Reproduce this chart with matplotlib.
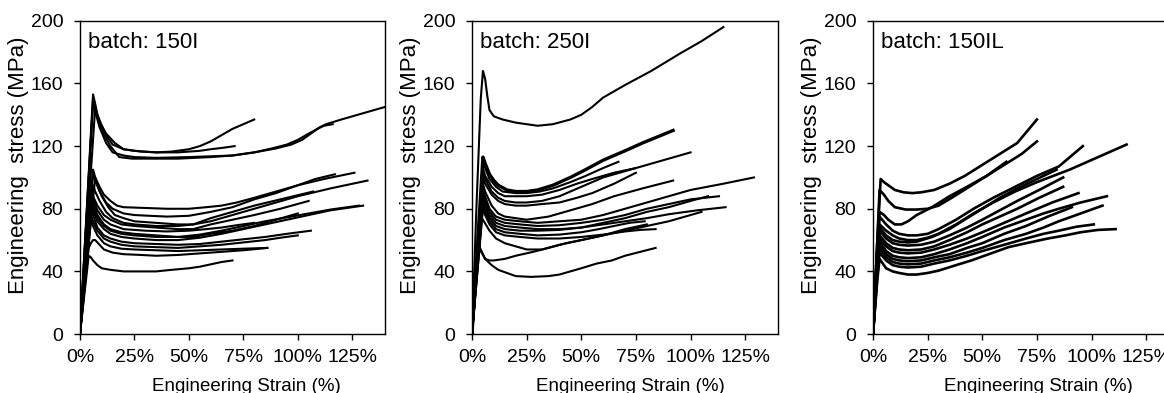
import matplotlib
matplotlib.use("Agg")
import matplotlib.pyplot as plt

plt.rcParams["font.family"] = ["Liberation Sans", "DejaVu Sans"]

# strain in %, stress in MPa, one list per specimen curve
b150i_strain = [
    [0, 6, 7, 8, 10, 12, 16, 20, 28, 35, 42, 50, 55, 60, 65, 70, 75, 80],
    [0, 6, 7, 9, 12, 15, 20, 25, 35, 45, 55, 60, 66, 71],
    [0, 6, 7, 9, 12, 15, 20, 25, 35, 50, 60, 70, 80, 90, 97, 102, 106, 110, 113, 120, 130, 140],
    [0, 7, 8, 10, 14, 18, 24, 30, 45, 60, 70, 80, 88, 95, 100, 105, 109, 112, 116],
    [0, 6, 7, 9, 11, 14, 17, 20, 30, 40, 50, 58, 65, 72, 80, 90, 100, 108, 117],
    [0, 6, 7, 9, 12, 15, 20, 25, 32, 40, 50, 60, 70, 80, 90, 100, 112, 126],
    [0, 7, 8, 10, 13, 16, 20, 25, 35, 45, 52, 60, 70, 80, 90, 100, 115, 132],
    [0, 6, 7, 9, 12, 15, 20, 25, 35, 45, 52, 60, 70, 80, 92, 107],
    [0, 5, 6, 8, 11, 14, 19, 25, 35, 45, 52, 60, 70, 80, 92, 105],
    [0, 5, 6, 8, 11, 14, 20, 30, 40, 50, 58, 65, 72, 80],
    [0, 5, 6, 8, 11, 14, 19, 25, 35, 45, 52, 60, 70, 80, 90, 100],
    [0, 5, 6, 8, 11, 14, 19, 25, 35, 45, 55, 65, 75, 85, 95, 105, 115, 128],
    [0, 5, 6, 8, 11, 14, 19, 25, 35, 45, 55, 65, 75, 85, 95, 105, 115, 130],
    [0, 5, 6, 8, 11, 14, 19, 25, 35, 45, 55, 65, 75, 85, 95, 106],
    [0, 5, 6, 8, 11, 14, 19, 25, 35, 45, 55, 65, 75, 85, 92, 100],
    [0, 5, 6, 8, 11, 14, 19, 25, 35, 45, 55, 65, 75, 86],
    [0, 4, 5, 6, 7, 9, 11, 15, 20, 28, 35, 45, 55, 65, 75, 86],
    [0, 4, 5, 6, 8, 10, 14, 20, 28, 35, 42, 50, 55, 60, 65, 70],
]
b150i_stress = [
    [0, 153, 147, 140, 133, 128, 122, 118, 116.5, 116, 116.5, 118, 120, 123, 127, 131, 134, 137],
    [0, 150, 144, 136, 127, 121, 118, 117, 116, 116, 117, 118, 119, 120],
    [0, 148, 142, 132, 122, 116, 114, 113, 112.5, 113, 113.5, 114, 116, 118.5, 121, 124, 128, 132, 134, 137, 141, 145],
    [0, 145, 139, 130, 120, 113, 112, 112, 112, 113, 114, 116, 118.5, 121, 124, 128, 131, 133, 134],
    [0, 105, 100, 94, 89, 85, 82, 81, 80.5, 80, 80, 81, 82, 84, 87, 91, 95, 99, 102],
    [0, 103, 98, 91, 84, 80, 77, 76, 75.5, 75, 75.5, 78, 81, 86, 90, 95, 99, 103],
    [0, 100, 95, 88, 81, 76, 74, 72, 71, 70, 70, 72, 76, 80, 84, 88, 93, 98],
    [0, 95, 91, 85, 78, 74, 71, 70, 69, 69, 70, 74, 78, 82, 86, 91],
    [0, 92, 88, 82, 76, 73, 70, 69, 68, 67, 67, 70, 73, 76, 80, 85],
    [0, 90, 86, 79, 73, 70, 67, 66, 65.5, 66, 67, 68, 69.5, 71],
    [0, 88, 83, 76, 70, 67, 65, 64, 63, 62, 62, 64, 66, 69, 73, 77],
    [0, 86, 81, 74, 69, 66, 64, 63, 62, 62, 63.5, 66, 69, 72, 74.5, 77, 79.5, 82],
    [0, 83, 79, 72, 67, 64, 62, 61, 60, 60, 61.5, 64, 67, 70, 73, 76, 79, 82],
    [0, 80, 76, 68, 63, 61, 59, 58, 57.5, 57, 57.5, 59, 60.5, 62, 64, 66],
    [0, 76, 72, 66, 61, 59, 57, 56, 55.5, 55, 56, 57, 58.5, 60, 61.5, 63],
    [0, 73, 69, 63, 58, 56, 54.5, 54, 53.5, 53, 53.5, 54, 54.5, 55],
    [0, 55, 58, 60, 60, 57, 54, 52, 51, 50.5, 50, 50.5, 51.5, 52.5, 53.5, 55],
    [0, 50, 49, 47, 44, 42, 41, 40, 40, 40, 41, 42, 43, 44.5, 46, 47],
]

b250i_strain = [
    [0, 2, 4, 5, 6, 7, 8, 10, 14, 20, 30, 37, 45, 50, 55, 60, 70, 82, 95, 105, 115],
    [0, 5, 6, 8, 10, 12, 16, 20, 25, 30, 37, 45, 52, 60, 70, 78, 85, 92],
    [0, 5, 6, 8, 11, 14, 20, 25, 31, 37, 45, 52, 60, 67],
    [0, 5, 6, 9, 12, 15, 20, 25, 32, 40, 48, 55, 65, 75],
    [0, 5, 6, 9, 12, 15, 20, 25, 32, 40, 50, 60, 70, 80, 90, 100],
    [0, 5, 6, 9, 12, 15, 20, 25, 32, 40, 48, 55, 65, 75],
    [0, 5, 6, 9, 12, 15, 20, 25, 35, 45, 55, 65, 78, 92],
    [0, 5, 6, 8, 11, 15, 22, 30, 40, 50, 60, 70, 85, 100, 115, 129],
    [0, 5, 6, 8, 11, 15, 22, 30, 40, 50, 60, 70, 80, 90, 100, 113],
    [0, 5, 6, 8, 11, 15, 22, 30, 40, 50, 60, 70, 80, 90, 103, 116],
    [0, 5, 6, 8, 11, 15, 22, 30, 40, 50, 60, 70, 80, 90, 100, 108],
    [0, 5, 6, 8, 11, 15, 22, 30, 40, 50, 58, 65, 72, 79],
    [0, 5, 6, 8, 11, 15, 22, 30, 40, 50, 60, 70, 77, 84],
    [0, 4, 5, 8, 11, 15, 20, 25, 32, 40, 50, 60, 70, 80],
    [0, 3, 4, 6, 8, 10, 15, 20, 28, 35, 43, 50, 60, 70, 80, 90, 105],
    [0, 3, 4, 6, 9, 12, 16, 20, 27, 35, 40, 45, 50, 57, 64, 70, 77, 84],
]
b250i_stress = [
    [0, 80, 150, 168, 163, 152, 143, 139, 137, 135, 133, 134, 137, 140, 145, 151, 159, 168, 179, 187, 196],
    [0, 113, 109, 102, 98, 95, 92, 91, 91, 92, 95, 100, 105, 111, 117, 122, 126, 130],
    [0, 110, 106, 99, 94, 91, 90, 90, 91, 93, 97, 101, 106, 110],
    [0, 106, 101, 94, 90, 88, 88, 88, 89, 92, 96, 99, 103, 106],
    [0, 104, 99, 91, 87, 85, 84, 84, 85, 88, 94, 100, 104, 108, 112, 116],
    [0, 100, 96, 89, 85, 83, 82, 82, 83, 84, 87, 90, 96, 103],
    [0, 96, 91, 82, 77, 75, 74, 73, 75, 79, 83, 88, 93, 98],
    [0, 92, 88, 80, 75, 73, 72, 71, 72, 73, 76, 80, 86, 92, 96, 100],
    [0, 90, 86, 78, 73, 71, 70, 69, 69.5, 71, 73, 76, 80, 83, 86, 88],
    [0, 88, 84, 76, 71, 69, 68, 67, 67, 68, 70, 72, 74, 76.5, 79, 81],
    [0, 85, 81, 74, 69, 67, 66, 66, 66.5, 68, 71, 74, 78, 81, 85, 88],
    [0, 82, 78, 72, 67, 65, 64, 63, 63.5, 65, 67, 69, 71, 72],
    [0, 80, 76, 70, 65, 63, 62, 61, 61, 62, 63.5, 65.5, 66.5, 67],
    [0, 75, 73, 66, 61, 58, 56, 54, 54, 57, 60, 63, 67, 70],
    [0, 55, 53, 48, 47, 47, 48, 50, 52.5, 55, 58, 60, 63, 66, 69, 72, 78],
    [0, 57, 54, 48, 44, 41, 39, 37, 36.5, 37, 38, 40, 42, 45, 47, 50, 52.5, 55],
]

b150il_strain = [
    [0, 2, 3.5, 5, 7, 10, 14, 18, 22, 28, 35, 42, 50, 58, 66, 75],
    [0, 2, 3, 5, 7, 10, 15, 20, 25, 30, 36, 44, 52, 60, 68, 75],
    [0, 2, 3, 5, 7, 10, 13, 16, 20, 27, 35, 43, 52, 61],
    [0, 2, 3, 6, 9, 12, 16, 20, 25, 30, 38, 46, 55, 65, 75, 85, 96],
    [0, 2, 3, 6, 9, 12, 16, 20, 25, 30, 38, 46, 55, 65, 75, 90, 103, 116],
    [0, 2, 3, 6, 9, 12, 16, 20, 27, 35, 43, 50, 58, 66, 75, 84],
    [0, 2, 3, 6, 9, 12, 16, 22, 28, 35, 43, 50, 58, 66, 76, 87],
    [0, 2, 3, 6, 9, 12, 16, 22, 28, 35, 43, 50, 58, 66, 76, 87],
    [0, 2, 3, 6, 9, 12, 16, 22, 28, 35, 43, 50, 60, 70, 82, 94],
    [0, 2, 3, 6, 9, 12, 16, 22, 28, 35, 43, 50, 60, 70, 78, 85, 95, 107],
    [0, 2, 3, 6, 9, 12, 16, 22, 28, 35, 43, 50, 60, 70, 80, 91],
    [0, 2, 3, 6, 9, 12, 16, 22, 28, 35, 43, 50, 60, 70, 78, 85, 95, 105],
    [0, 2, 3, 6, 9, 12, 16, 22, 28, 35, 43, 50, 60, 70, 78, 85, 93, 101],
    [0, 2, 3, 6, 9, 12, 16, 20, 25, 30, 38, 45, 53, 62, 70, 80, 88, 95, 103, 111],
]
b150il_stress = [
    [0, 60, 99, 97, 95, 92, 90.5, 90, 90.5, 92, 96, 101, 108, 115, 122, 137],
    [0, 60, 92, 89, 85, 81, 79.5, 79.5, 80, 82, 87, 94, 101, 108, 115, 123],
    [0, 55, 78, 76, 73, 70, 70, 72, 76, 81, 88, 94, 101, 110],
    [0, 55, 75, 70, 66, 64, 63, 63, 64, 67, 73, 80, 87, 94, 101, 107, 120],
    [0, 55, 70, 66, 63, 61, 60, 60, 61.5, 64, 70, 77, 84, 91, 97, 105, 113, 121],
    [0, 52, 68, 63, 60, 59, 58.5, 59, 62, 67, 74, 80, 87, 93, 99, 105],
    [0, 50, 66, 61, 58, 57, 56.5, 57, 59, 63, 68, 73, 79, 85, 92, 100],
    [0, 48, 63, 58, 55, 54, 53.5, 54, 56, 60, 65, 70, 75, 80, 87, 94],
    [0, 46, 61, 56, 53, 52, 51.5, 52, 54, 57, 61, 65, 71, 77, 84, 90],
    [0, 44, 59, 53, 50, 49, 48.5, 49, 51, 54, 58, 62, 68, 73, 77, 80, 84, 88],
    [0, 42, 57, 51, 48, 47, 46.5, 47, 49, 51, 55, 58, 64, 69, 75, 81],
    [0, 40, 55, 49, 46, 45, 44.5, 45, 47, 49, 52, 55, 60, 64, 68, 72, 77, 82],
    [0, 38, 52, 47, 44, 43, 42.5, 43, 45, 47, 50, 53, 57, 61, 64, 66, 68.5, 70],
    [0, 35, 48, 42, 40, 39, 38, 38, 39, 40.5, 44, 47, 51, 55.5, 58, 61, 63, 65, 66.5, 67],
]

batch_names = ["batch: 150I", "batch: 250I", "batch: 150IL"]
strain_ticks = [0, 25, 50, 75, 100, 125]
strain_labels = ["0%", "25%", "50%", "75%", "100%", "125%"]
stress_ticks = [0, 40, 80, 120, 160, 200]


def draw_panel(ax, strains, stresses, name, xlab_x, lw=1.5, thick=None):
    for i, (x, y) in enumerate(zip(strains, stresses)):
        w = 2.4 if i == thick else lw
        ax.plot(x, y, color="black", linewidth=w, solid_joinstyle="round")
    ax.set_xlim(0, 140)
    ax.set_ylim(0, 200)
    ax.set_xticks(strain_ticks)
    ax.set_xticklabels(strain_labels)
    ax.set_yticks(stress_ticks)
    ax.tick_params(direction="out", length=4, width=1)
    ax.tick_params(axis="x", labelsize=14, pad=7)
    ax.tick_params(axis="y", labelsize=14, pad=8)
    ax.set_xlabel("Engineering Strain (%)", fontsize=13.5)
    ax.set_ylabel("Engineering  stress (MPa)", fontsize=16)
    ax.xaxis.set_label_coords(xlab_x, -0.14)
    ax.yaxis.set_label_coords(-0.168, 0.54)
    ax.text(0.025, 0.93, name, transform=ax.transAxes, fontsize=16,
            ha="left", va="center")
    for s in ax.spines.values():
        s.set_linewidth(1.0)


def main(output_path="out.png"):
    fig = plt.figure(figsize=(11.64, 3.93), dpi=100)
    bottom, height = 0.150, 0.797
    ax1 = fig.add_axes([0.0687, bottom, 0.2620, height])
    ax2 = fig.add_axes([0.4055, bottom, 0.2629, height])
    ax3 = fig.add_axes([0.7500, bottom, 0.2629, height])

    draw_panel(ax1, b150i_strain, b150i_stress, batch_names[0], 0.546)
    draw_panel(ax2, b250i_strain, b250i_stress, batch_names[1], 0.516, thick=1)
    draw_panel(ax3, b150il_strain, b150il_stress, batch_names[2], 0.54, lw=1.9)

    fig.savefig(output_path, dpi=100)


if __name__ == "__main__":
    main("out.png")
